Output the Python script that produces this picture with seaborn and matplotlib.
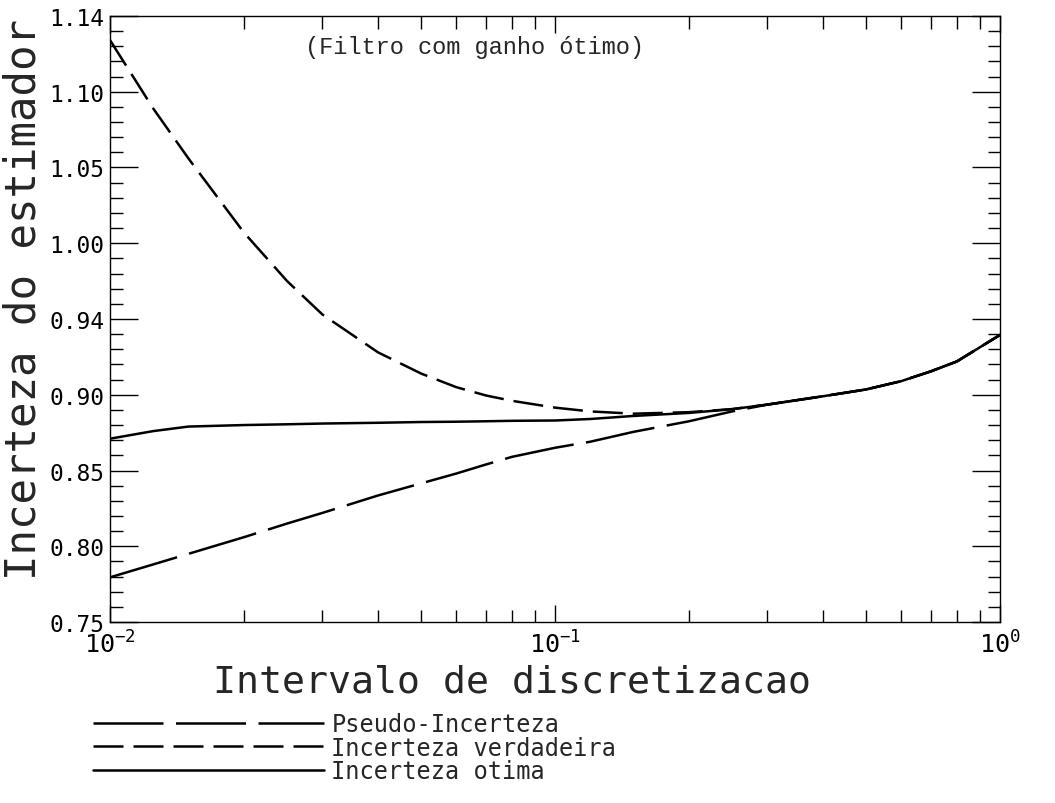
import matplotlib
matplotlib.use("Agg")
import matplotlib.pyplot as plt
import matplotlib.ticker as mticker
import seaborn as sns
import pandas as pd

# intervalo de discretizacao (eixo x, log)
intervalo = [0.01, 0.0125, 0.015, 0.02, 0.025, 0.03, 0.04, 0.05, 0.06, 0.07, 0.08,
             0.1, 0.12, 0.15, 0.2, 0.25, 0.3, 0.4, 0.5, 0.6, 0.7, 0.8, 1.0]

# valores
pseudo = [0.7795, 0.788, 0.795, 0.806, 0.815, 0.822, 0.8335, 0.8415, 0.848, 0.854, 0.859,
          0.865, 0.869, 0.8755, 0.8825, 0.889, 0.8935, 0.899, 0.9035, 0.909, 0.9155, 0.922, 0.9395]
verdadeira = [1.134, 1.089, 1.056, 1.007, 0.975, 0.953, 0.928, 0.914, 0.905, 0.8995, 0.896,
              0.8915, 0.889, 0.8875, 0.8885, 0.8905, 0.8935, 0.899, 0.9035, 0.909, 0.9155, 0.922, 0.9395]
otima = [0.871, 0.876, 0.879, 0.880, 0.8805, 0.881, 0.8815, 0.882, 0.8822, 0.8825, 0.8828,
         0.883, 0.884, 0.886, 0.888, 0.8905, 0.8935, 0.899, 0.9035, 0.909, 0.9155, 0.922, 0.9395]

ytick_vals = [0.75, 0.80, 0.85, 0.90, 0.95, 1.00, 1.05, 1.10, 1.15]
ytick_labels = ['0.75', '0.80', '0.85', '0.90', '0.94', '1.00', '1.05', '1.10', '1.14']

df = pd.DataFrame({'x': intervalo, 'pseudo': pseudo, 'verdadeira': verdadeira, 'otima': otima})

sns.set_style("ticks")
plt.rcParams['font.family'] = ['DejaVu Sans Mono', 'DejaVu Sans']
plt.rcParams['mathtext.fontset'] = 'custom'
plt.rcParams['mathtext.rm'] = 'DejaVu Sans Mono'
plt.rcParams['mathtext.default'] = 'rm'

fig = plt.figure(figsize=(10.55, 8.04), dpi=100)
ax = fig.add_axes([0.1043, 0.2251, 0.8436, 0.7538])

sns.lineplot(data=df, x='x', y='pseudo', ax=ax, color='black', lw=1.8,
             linestyle=(0, (28, 5)), label='Pseudo-Incerteza')
sns.lineplot(data=df, x='x', y='verdadeira', ax=ax, color='black', lw=1.8,
             linestyle=(0, (12, 4)), label='Incerteza verdadeira')
sns.lineplot(data=df, x='x', y='otima', ax=ax, color='black', lw=1.8,
             linestyle='-', label='Incerteza otima')

ax.set_xscale('log')
ax.set_xlim(0.01, 1.0)
ax.set_ylim(0.75, 1.15)

ax.set_yticks(ytick_vals)
ax.set_yticklabels(ytick_labels)
ax.yaxis.set_minor_locator(mticker.MultipleLocator(0.01))
ax.set_xticks([0.01, 0.1, 1.0])
ax.set_xticklabels(['$10^{-2}$', '$10^{-1}$', '$10^{0}$'])
ax.xaxis.set_minor_locator(mticker.LogLocator(base=10, subs=range(2, 10)))
ax.xaxis.set_minor_formatter(mticker.NullFormatter())

ax.tick_params(which='both', direction='in', top=True, right=True, colors='black', width=1)
ax.tick_params(which='major', length=20, pad=4)
ax.tick_params(which='minor', length=9)
ax.tick_params(axis='y', which='major', labelsize=16.5)
ax.tick_params(axis='x', which='major', length=12, pad=6, labelsize=18)
for s in ax.spines.values():
    s.set_linewidth(1)
    s.set_color('black')

ax.set_xlabel('Intervalo de discretizacao', fontsize=27.5)
ax.set_ylabel('Incerteza do estimador', fontsize=30.5)
ax.xaxis.set_label_coords(0.452, -0.068)
ax.yaxis.set_label_coords(-0.074, 0.533)

ax.text(0.219, 0.950, '(Filtro com ganho ótimo)', transform=ax.transAxes,
        fontsize=17, family=['Liberation Mono', 'DejaVu Sans Mono'], va='center', ha='left')

handles, labels = ax.get_legend_handles_labels()
ax.get_legend().remove()
fig.legend(handles, labels, loc='upper left', bbox_to_anchor=(0.088, 0.113),
           frameon=False, fontsize=17, handlelength=9.8, handletextpad=0.3,
           labelspacing=-0.02, borderpad=0, borderaxespad=0)

fig.savefig('out.png', dpi=100, facecolor='white')
